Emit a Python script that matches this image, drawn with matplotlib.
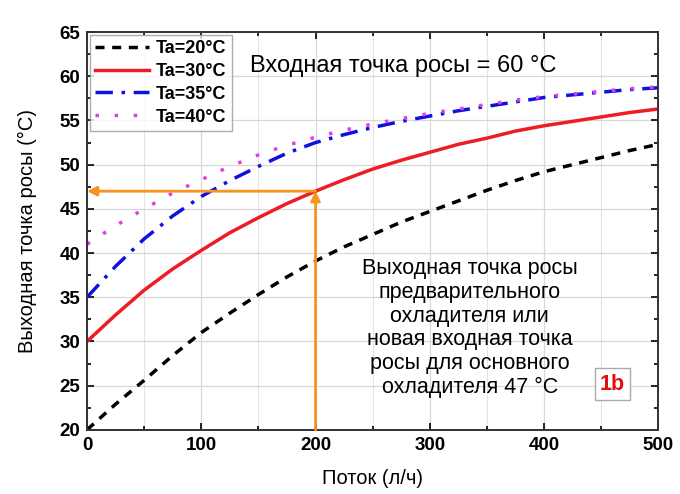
import matplotlib
matplotlib.use("Agg")
import matplotlib.pyplot as plt
from matplotlib.ticker import MultipleLocator

plt.rcParams['font.family'] = ['Liberation Sans', 'DejaVu Sans']

flow = [0, 25, 50, 75, 100, 125, 150, 175, 200, 225, 250,
        275, 300, 325, 350, 375, 400, 425, 450, 475, 500]
ta20 = [20.0, 22.9, 25.6, 28.4, 31.0, 33.2, 35.3, 37.3, 39.1, 40.7, 42.1,
        43.5, 44.7, 45.9, 47.1, 48.2, 49.2, 50.0, 50.8, 51.6, 52.3]
ta30 = [30.0, 33.0, 35.8, 38.2, 40.3, 42.3, 44.0, 45.6, 47.0, 48.3, 49.5,
        50.5, 51.4, 52.3, 53.0, 53.8, 54.4, 54.9, 55.4, 55.9, 56.3]
ta35 = [35.0, 38.5, 41.6, 44.2, 46.4, 48.2, 49.8, 51.3, 52.5, 53.4, 54.2,
        54.9, 55.5, 56.1, 56.6, 57.1, 57.6, 57.9, 58.2, 58.5, 58.7]
ta40 = [41.0, 43.1, 45.0, 46.8, 48.3, 49.8, 51.1, 52.2, 53.1, 53.9, 54.6,
        55.2, 55.8, 56.3, 56.8, 57.3, 57.7, 58.0, 58.3, 58.6, 58.8]
labels = ['Ta=20°C', 'Ta=30°C', 'Ta=35°C', 'Ta=40°C']
point_x = 200
point_y = 47

fig = plt.figure(figsize=(6.8, 4.94), dpi=100)
ax = fig.add_axes([0.128, 0.130, 0.840, 0.805])

ax.plot(flow, ta20, color='black', lw=2.5, linestyle=(0, (2.6, 2.2)), label=labels[0])
ax.plot(flow, ta30, color='#ee1c24', lw=2.5, linestyle='-', label=labels[1])
ax.plot(flow, ta35, color='#1010e0', lw=2.5, linestyle=(0, (5, 2.5, 1, 2.5)), label=labels[2])
ax.plot(flow, ta40, color='#e040e0', lw=2.5, linestyle=(0, (1, 4.5)), label=labels[3])

orange = '#f7941d'
ax.annotate('', xy=(0, point_y), xytext=(point_x, point_y),
            arrowprops=dict(arrowstyle='-|>', color=orange, lw=2, mutation_scale=14,
                            shrinkA=0, shrinkB=0))
ax.annotate('', xy=(point_x, point_y), xytext=(point_x, 20),
            arrowprops=dict(arrowstyle='-|>', color=orange, lw=2, mutation_scale=14,
                            shrinkA=0, shrinkB=0))

ax.set_xlim(0, 500)
ax.set_ylim(20, 65)
ax.xaxis.set_major_locator(MultipleLocator(100))
ax.xaxis.set_minor_locator(MultipleLocator(50))
ax.yaxis.set_major_locator(MultipleLocator(5))
ax.yaxis.set_minor_locator(MultipleLocator(2.5))
ax.grid(True, which='major', color='#d8d8d8', lw=0.9)
ax.grid(True, which='minor', axis='x', color='#e4e4e4', lw=0.8)
ax.set_axisbelow(True)
ax.tick_params(which='both', direction='in', top=True, right=True, width=1.2)
ax.tick_params(which='major', length=5, labelsize=13.5, pad=5)
ax.tick_params(which='minor', length=3)
for lab in ax.get_xticklabels() + ax.get_yticklabels():
    lab.set_fontweight('bold')
for s in ax.spines.values():
    s.set_linewidth(1.4)
    s.set_color('#333333')

ax.set_xlabel('Поток (л/ч)', fontsize=14.5, labelpad=11)
ax.set_ylabel('Выходная точка росы (°C)', fontsize=14.5, labelpad=16)

leg = ax.legend(loc='upper left', prop={'weight': 'bold', 'size': 13},
                frameon=True, fancybox=False, edgecolor='#999999',
                handlelength=3.0, handletextpad=0.35, labelspacing=0.32,
                borderpad=0.3, borderaxespad=0.15)
leg.get_frame().set_linewidth(1.0)

ax.text(0.285, 0.915, 'Входная точка росы = 60 °C', transform=ax.transAxes,
        fontsize=17, color='black', ha='left', va='center')
ax.text(0.67, 0.256, 'Выходная точка росы\nпредварительного\nохладителя или\nновая входная точка\nросы для основного\nохладителя 47 °C',
        transform=ax.transAxes, fontsize=15.5, ha='center', va='center', linespacing=1.17)
ax.text(0.92, 0.115, '1b', transform=ax.transAxes, fontsize=15.5, fontweight='bold',
        color='#e01010', ha='center', va='center',
        bbox=dict(boxstyle='square,pad=0.25', fc='white', ec='#aaaaaa', lw=1))

fig.savefig('out.png', dpi=100)
